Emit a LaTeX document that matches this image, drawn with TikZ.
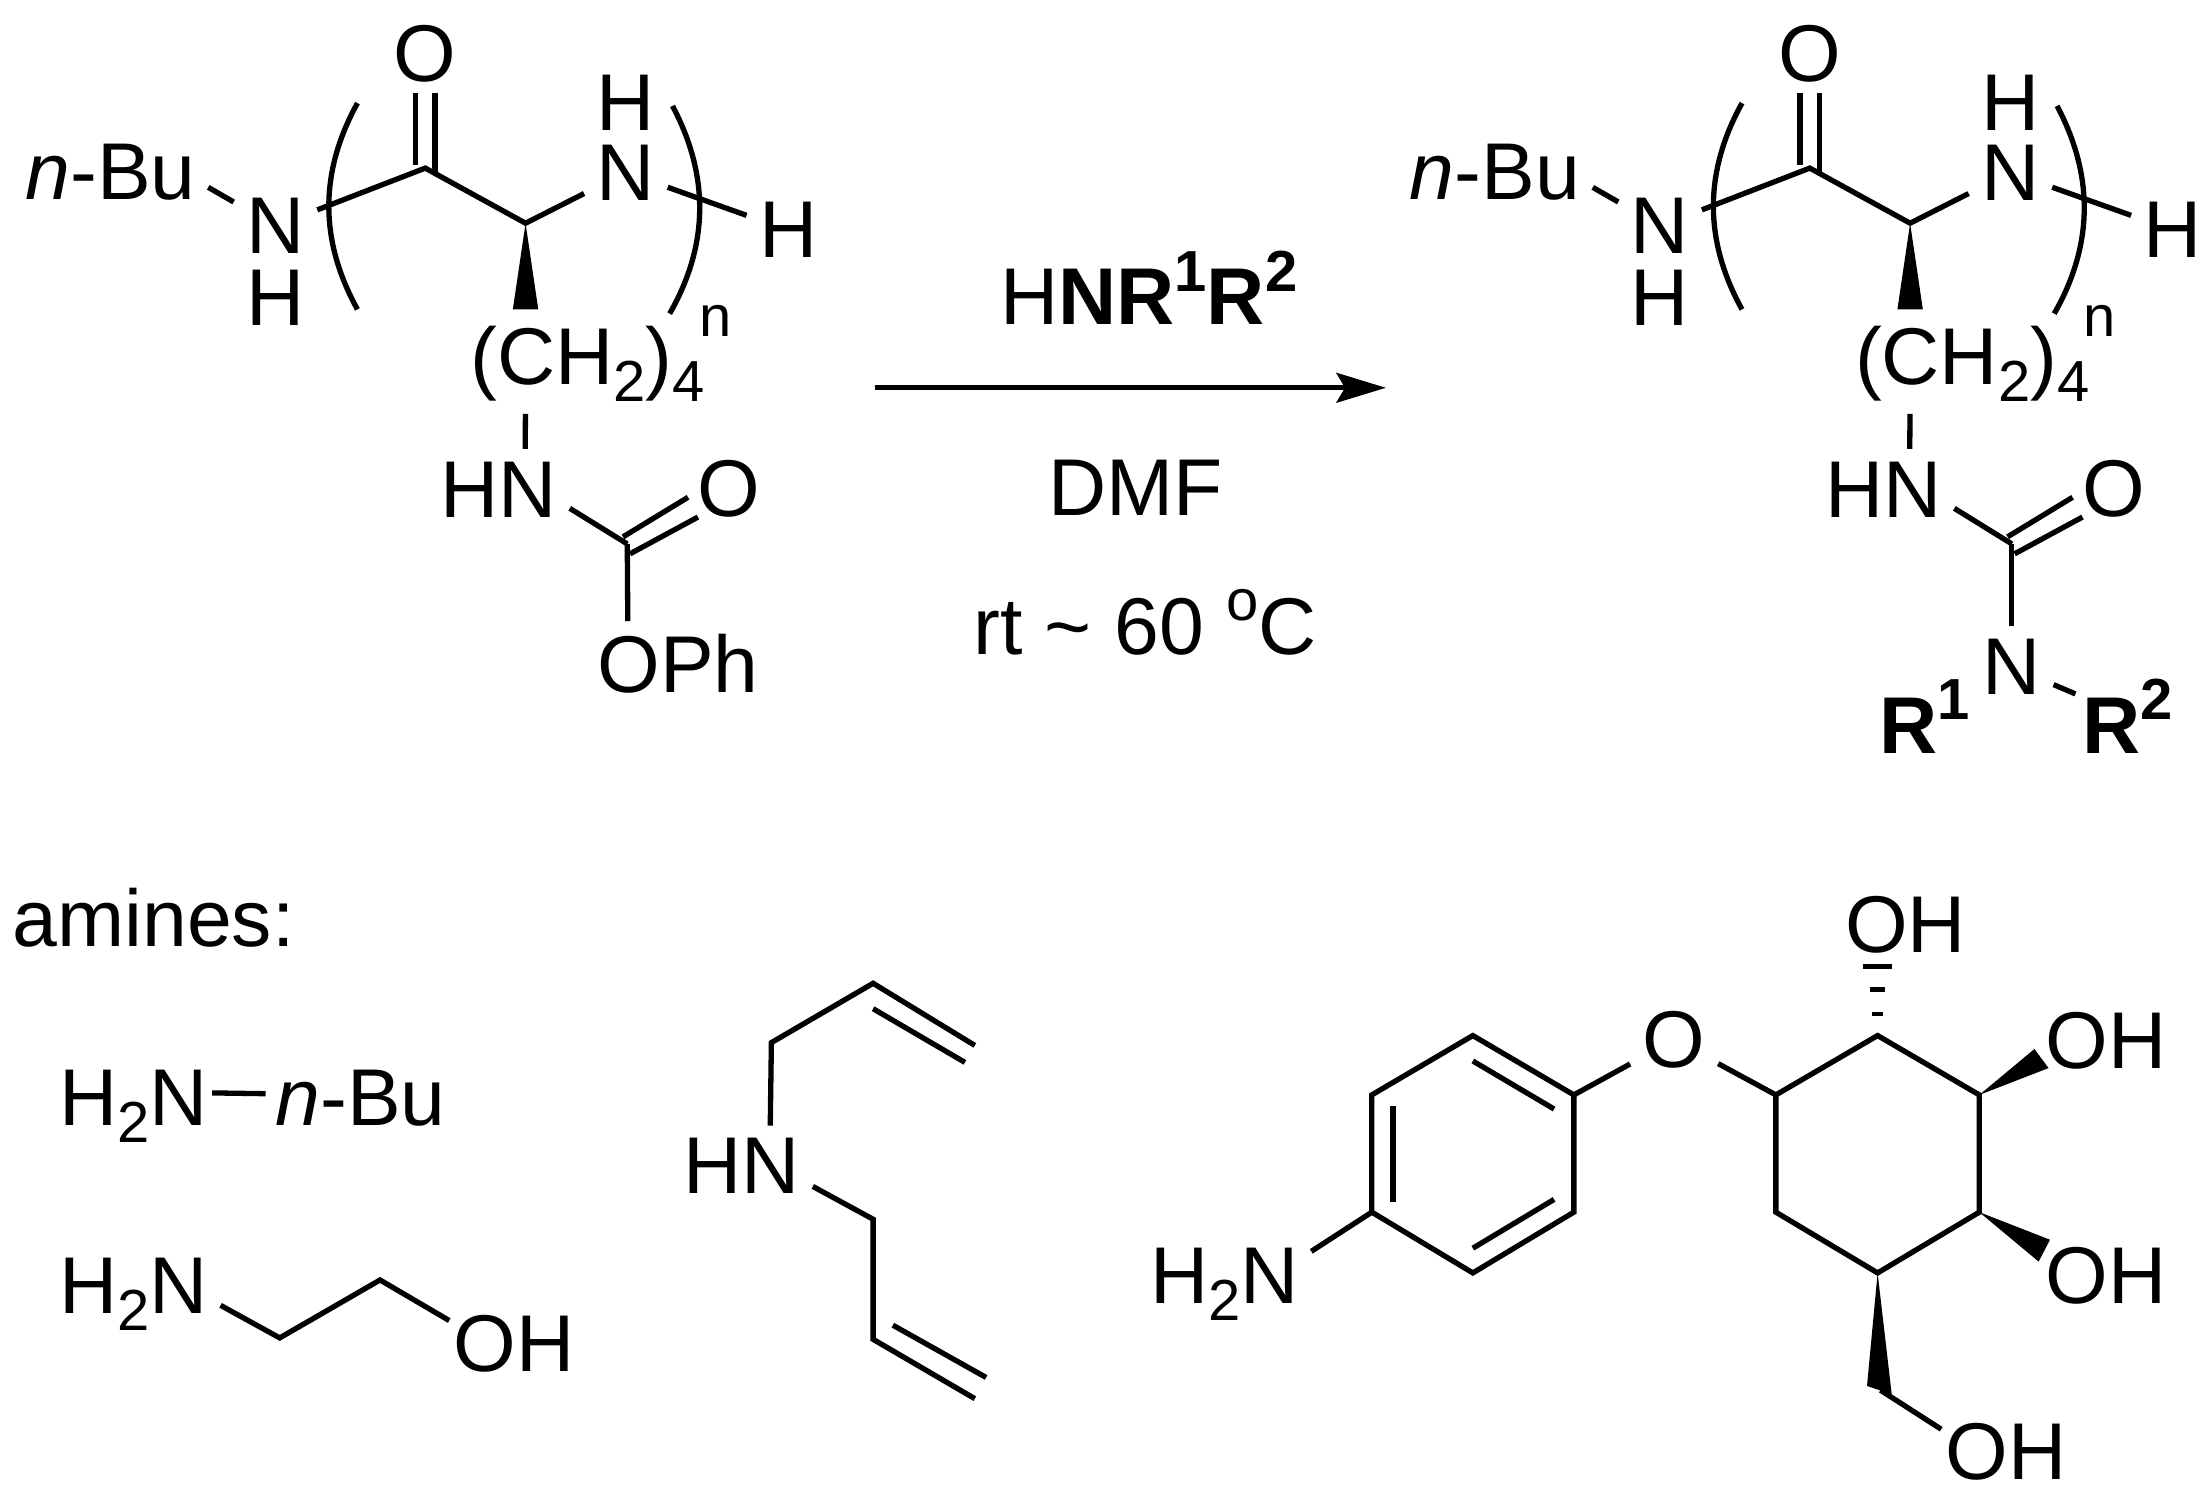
\documentclass[tikz,border=0pt]{standalone}
\usepackage{fontspec}
\setmainfont{Liberation Sans}
\usetikzlibrary{arrows.meta}
\newcommand{\sbs}[1]{\raisebox{-4.8pt}{\fontsize{16.4pt}{18pt}\selectfont #1}}
\newcommand{\spr}[1]{\raisebox{9.4pt}{\fontsize{16.4pt}{18pt}\selectfont #1}}
\tikzset{
  atom/.style={inner sep=0pt,outer xsep=3.6pt,outer ysep=3.6pt,font=\fontsize{22.8pt}{26pt}\selectfont},
  ohnode/.style={atom,outer xsep=1.2pt},
  bond/.style={line width=1.5pt}
}
\begin{document}
\begin{tikzpicture}[x=.4pt,y=-.4pt,bond]
\useasboundingbox (0,0) rectangle (1565,1063.15);
% left molecule
\begin{scope}
\node[atom,anchor=text] (nbu) at (18,141) {\textit{n}-Bu};
\node[atom] (nh) at (195,160) {N};
\node[atom] (nhh) at (195,211) {H};
\node[atom] (oa) at (301,38) {O};
\node[atom] (nb) at (443,122) {N};
\node[atom] (nbh) at (443,73) {H};
\node[atom] (ht) at (558,163) {H};
\node[atom,anchor=text] (ch) at (333,272) {(CH\sbs{2})\sbs{4}};
\node[atom,anchor=text,font=\fontsize{16.4pt}{18pt}\selectfont] (idx) at (495,238) {n};
\node[atom,anchor=text] (hn) at (312,366) {HN};
\node[atom] (ob) at (516,346) {O};
\node[atom,anchor=text] (oph) at (423,490) {OPh};
\coordinate (ca) at (301,119);
\coordinate (cb) at (372,158);
\coordinate (cc) at (444,385);
\coordinate (wa) at (363,219);
\coordinate (wb) at (381,219);
\coordinate (da) at (294,66);
\coordinate (db) at (294,117);
\coordinate (dc) at (308,66);
\coordinate (dd) at (308,122);
\coordinate (de) at (441,380);
\coordinate (df) at (487,352);
\coordinate (dg) at (446,392);
\coordinate (dh) at (494,366);
\coordinate (pa) at (253,73);
\coordinate (pb) at (226,122);
\coordinate (pc) at (226,170);
\coordinate (pd) at (253,219);
\coordinate (pe) at (476,75);
\coordinate (pf) at (502,124);
\coordinate (pg) at (502,173);
\coordinate (ph) at (474,222);
\draw (nbu.-9) -- (nh);
\draw (nh) -- (ca) -- (cb) -- (nb);
\draw (nb) -- (ht);
\draw (da) -- (db);
\draw (dc) -- (dd);
\fill (cb) -- (wa) -- (wb) -- cycle;
\draw (pa) .. controls (pb) and (pc) .. (pd);
\draw (pe) .. controls (pf) and (pg) .. (ph);
\draw (ch.219) -- (hn.57);
\draw (hn.-15) -- (cc);
\draw (de) -- (df);
\draw (dg) -- (dh);
\draw (cc) -- (oph.140);
\end{scope}
% right molecule
\begin{scope}[xshift=392pt]
\node[atom,anchor=text] (rnbu) at (18,141) {\textit{n}-Bu};
\node[atom] (rnh) at (195,160) {N};
\node[atom] (rnhh) at (195,211) {H};
\node[atom] (roa) at (301,38) {O};
\node[atom] (rnb) at (443,122) {N};
\node[atom] (rnbh) at (443,73) {H};
\node[atom] (rht) at (558,163) {H};
\node[atom,anchor=text] (rch) at (333,272) {(CH\sbs{2})\sbs{4}};
\node[atom,anchor=text,font=\fontsize{16.4pt}{18pt}\selectfont] (ridx) at (495,238) {n};
\node[atom,anchor=text] (rhn) at (312,366) {HN};
\node[atom] (rob) at (516,346) {O};
\node[atom] (rnc) at (444,472) {N};
\node[atom,anchor=text] (rra) at (350,533) {\textbf{R\spr{1}}};
\node[atom,anchor=text,outer xsep=2pt] (rrb) at (494,533) {\textbf{R\spr{2}}};
\coordinate (rca) at (301,119);
\coordinate (rcb) at (372,158);
\coordinate (rcc) at (444,385);
\coordinate (rwa) at (363,219);
\coordinate (rwb) at (381,219);
\coordinate (rda) at (294,66);
\coordinate (rdb) at (294,117);
\coordinate (rdc) at (308,66);
\coordinate (rdd) at (308,122);
\coordinate (rde) at (441,380);
\coordinate (rdf) at (487,352);
\coordinate (rdg) at (446,392);
\coordinate (rdh) at (494,366);
\coordinate (rpa) at (253,73);
\coordinate (rpb) at (226,122);
\coordinate (rpc) at (226,170);
\coordinate (rpd) at (253,219);
\coordinate (rpe) at (476,75);
\coordinate (rpf) at (502,124);
\coordinate (rpg) at (502,173);
\coordinate (rph) at (474,222);
\draw (rnbu.-9) -- (rnh);
\draw (rnh) -- (rca) -- (rcb) -- (rnb);
\draw (rnb) -- (rht);
\draw (rda) -- (rdb);
\draw (rdc) -- (rdd);
\fill (rcb) -- (rwa) -- (rwb) -- cycle;
\draw (rpa) .. controls (rpb) and (rpc) .. (rpd);
\draw (rpe) .. controls (rpf) and (rpg) .. (rph);
\draw (rch.219) -- (rhn.57);
\draw (rhn.-15) -- (rcc);
\draw (rde) -- (rdf);
\draw (rdg) -- (rdh);
\draw (rcc) -- (rnc);
\draw (rnc) -- (rrb);
\end{scope}
% reaction arrow
\node[atom,anchor=text] (rgt) at (708,230) {H\textbf{NR\spr{1}R\spr{2}}};
\node[atom] (dmf) at (804,345) {DMF};
\node[atom,anchor=text] (tmp) at (689,463) {rt \textasciitilde{} 60 \spr{o}C};
\coordinate (arra) at (619,274.5);
\coordinate (arrb) at (981,274.5);
\draw[-{Stealth[length=14pt,width=8.4pt,inset=2.4pt]}] (arra) -- (arrb);
% amines
\node[atom,anchor=text] (amn) at (9,670) {amines:};
\node[atom,anchor=text,outer xsep=1.2pt] (h2a) at (42,797) {H\sbs{2}N};
\node[atom,anchor=text,outer xsep=2.8pt] (bua) at (195,797) {\textit{n}-Bu};
\draw (h2a.10) -- (bua.177);
\node[atom,anchor=text] (h2b) at (42,930) {H\sbs{2}N};
\node[ohnode,anchor=text] (oha) at (321,971) {OH};
\coordinate (ea) at (198,947);
\coordinate (eb) at (269,906);
\draw (h2b.-7) -- (ea) -- (eb) -- (oha.160.7);
\node[atom,anchor=text] (hnd) at (484,845) {HN};
\coordinate (ga) at (546,738);
\coordinate (gb) at (618,696);
\coordinate (gc) at (690,740);
\coordinate (gd) at (618,714);
\coordinate (ge) at (683,752);
\coordinate (gf) at (618,863);
\coordinate (gg) at (618,948);
\coordinate (gh) at (690,990);
\coordinate (gi) at (632,938);
\coordinate (gj) at (698,975);
\draw (hnd.55) -- (ga) -- (gb) -- (gc);
\draw (gd) -- (ge);
\draw (hnd.-16.7) -- (gf) -- (gg) -- (gh);
\draw (gi) -- (gj);
% aryl ether
\node[atom,anchor=text] (h2c) at (814,923) {H\sbs{2}N};
\node[atom] (oe) at (1185,736) {O};
\node[ohnode,anchor=text] (ohb) at (1306,674) {OH};
\node[ohnode,anchor=text] (ohc) at (1448,756) {OH};
\node[ohnode,anchor=text] (ohd) at (1448,923) {OH};
\node[ohnode,anchor=text] (ohe) at (1377,1047) {OH};
\coordinate (aa) at (971,858);
\coordinate (ab) at (971,775);
\coordinate (ac) at (1042.5,733);
\coordinate (ad) at (1114,775);
\coordinate (ae) at (1114,858);
\coordinate (af) at (1042.5,901);
\coordinate (ia) at (986,783);
\coordinate (ib) at (986,851);
\coordinate (ic) at (1042.5,751);
\coordinate (id) at (1100,785);
\coordinate (ie) at (1042.5,883.5);
\coordinate (if) at (1100,849);
\coordinate (ba) at (1257,775);
\coordinate (bb) at (1329,733);
\coordinate (bc) at (1401,775);
\coordinate (bd) at (1401,858);
\coordinate (be) at (1329,901);
\coordinate (bf) at (1257,858);
\coordinate (wc) at (1440,742.5);
\coordinate (wd) at (1450,756);
\coordinate (we) at (1451,877.5);
\coordinate (wf) at (1443,893);
\coordinate (wg) at (1321.5,981);
\coordinate (wh) at (1339,987);
\coordinate (wi) at (1331,984);
\draw (aa) -- (ab) -- (ac) -- (ad) -- (ae) -- (af) -- cycle;
\draw (ia) -- (ib);
\draw (ic) -- (id);
\draw (ie) -- (if);
\draw (h2c.21) -- (aa);
\draw (ad) -- (oe);
\draw (oe) -- (ba);
\draw (ba) -- (bb) -- (bc) -- (bd) -- (be) -- (bf) -- cycle;
\fill (bc) -- (wc) -- (wd) -- cycle;
\fill (bd) -- (we) -- (wf) -- cycle;
\fill (be) -- (wg) -- (wh) -- cycle;
\draw (wi) -- (ohe.161.8);
\fill (1319,682) rectangle (1339,686);
\fill (1323.5,698.5) rectangle (1334.5,702);
\fill (1325,716) rectangle (1333,719.5);
\end{tikzpicture}
\end{document}
